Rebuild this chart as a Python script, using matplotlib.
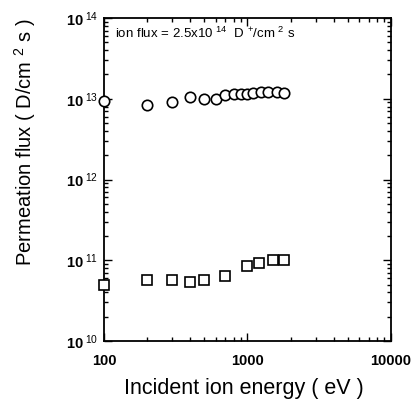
import numpy as np
import matplotlib
matplotlib.use("Agg")
import matplotlib.pyplot as plt
from matplotlib.ticker import FuncFormatter, LogLocator, FixedLocator, NullFormatter

plt.rcParams['font.family'] = ['Liberation Sans', 'DejaVu Sans']
plt.rcParams['mathtext.fontset'] = 'custom'
plt.rcParams['mathtext.rm'] = 'Liberation Sans'
plt.rcParams['mathtext.it'] = 'Liberation Sans:italic'
plt.rcParams['mathtext.bf'] = 'Liberation Sans:bold'

# Data
energy_circles = [100, 200, 300, 400, 500, 600, 700, 800, 900, 1000, 1100, 1250, 1400, 1600, 1800]
flux_circles = [9.3e12, 8.3e12, 9.2e12, 1.05e13, 1.0e13, 1.0e13, 1.12e13, 1.13e13, 1.13e13,
                1.16e13, 1.18e13, 1.2e13, 1.2e13, 1.2e13, 1.17e13]
energy_squares = [100, 200, 300, 400, 500, 700, 1000, 1200, 1500, 1800]
flux_squares = [4.9e10, 5.65e10, 5.65e10, 5.4e10, 5.65e10, 6.3e10, 8.6e10, 9.25e10, 1.02e11, 1.02e11]

x_ticks = [100, 1000, 10000]
x_tick_labels = ["100", "1000", "10000"]
y_ticks = [1e10, 1e11, 1e12, 1e13, 1e14]

fig = plt.figure(figsize=(4.11, 4.00), dpi=100)
ax = fig.add_axes([0.253, 0.1475, 0.698, 0.8075])

ax.plot(energy_circles, flux_circles, linestyle='none', marker='o', markersize=7.5,
        markerfacecolor='white', markeredgecolor='black', markeredgewidth=1.2, clip_on=False, zorder=3)
ax.plot(energy_squares, flux_squares, linestyle='none', marker='s', markersize=7.5,
        markerfacecolor='white', markeredgecolor='black', markeredgewidth=1.2, clip_on=False, zorder=3)

ax.set_xscale('log')
ax.set_yscale('log')
ax.set_xlim(100, 10000)
ax.set_ylim(1e10, 1e14)

ax.xaxis.set_major_locator(FixedLocator(x_ticks))
ax.xaxis.set_major_formatter(FuncFormatter(lambda v, p: x_tick_labels[x_ticks.index(v)] if v in x_ticks else ""))
ax.xaxis.set_minor_locator(LogLocator(base=10, subs=np.arange(2, 10)))
ax.xaxis.set_minor_formatter(NullFormatter())

ax.yaxis.set_major_locator(FixedLocator(y_ticks))
ax.yaxis.set_major_formatter(FuncFormatter(lambda v, p: r"$\mathbf{10}^{\ %d}$" % round(np.log10(v))))
ax.yaxis.set_minor_locator(LogLocator(base=10, subs=np.arange(2, 10)))
ax.yaxis.set_minor_formatter(NullFormatter())

ax.tick_params(which='both', direction='in', top=True, right=True, width=1.0)
ax.tick_params(which='major', length=6, labelsize=10.5)
ax.tick_params(axis='x', which='major', pad=9.5)
ax.tick_params(axis='y', which='major', pad=4)
ax.tick_params(which='minor', length=3)
for lab in ax.get_xticklabels():
    lab.set_fontweight('bold')
for s in ax.spines.values():
    s.set_linewidth(1.3)

ax.text(0.04, 0.975, r"ion flux = 2.5x10 $^{14}$  D $^{+}$/cm $^{2}$ s", transform=ax.transAxes,
        fontsize=9.5, va='top', ha='left')

ax.set_xlabel("Incident ion energy ( eV )", fontsize=15.5, va='center')
ax.xaxis.set_label_coords(0.486, -0.146)
fig.text(0.062, 0.645, r"Permeation flux ( D/cm $^{2}$ s )", rotation=90, fontsize=14.5,
         ha='center', va='center')

fig.savefig("out.png", dpi=100)
